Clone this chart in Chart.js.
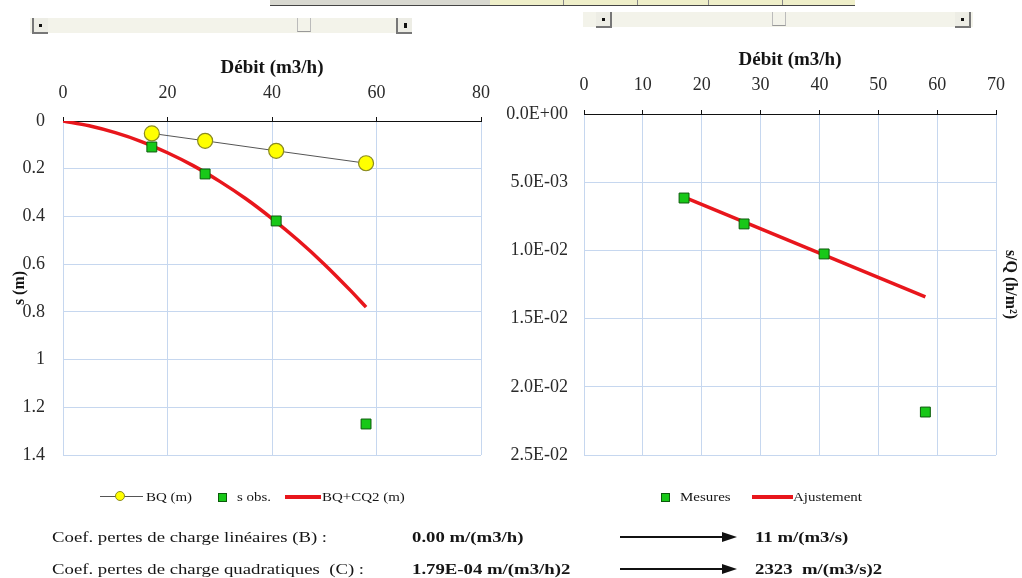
<!DOCTYPE html>
<html>
<head>
<meta charset="utf-8">
<script src="https://cdn.jsdelivr.net/npm/chart.js@4.4.1/dist/chart.umd.min.js"></script>
<style>
  html, body { margin: 0; padding: 0; background: #fff; }
  #page { position: relative; width: 1022px; height: 578px; overflow: hidden;
          font-family: "Liberation Serif", "Times New Roman", serif; color: #151515; }
  #page canvas { position: absolute; left: 0; top: 0; }
  .abs { position: absolute; }
  .strip { top: 0; height: 5px; border-bottom: 1px solid #444; }
  .bar { background: #f3f3ea; height: 15px; }
  .btn { position: absolute; top: 0; width: 14px; height: 14px; background: #ededE5; }
  .btn i { position: absolute; left: 6px; top: 6px; width: 3px; height: 3px; background: #111; }
  .thumb { position: absolute; top: 0; width: 12px; height: 13px; border-left: 1px solid #bbb;
           border-right: 1px solid #bbb; border-bottom: 1px solid #999; }
  .leg { font-size: 13px; line-height: 16px; white-space: nowrap; transform: scaleX(1.15);
         transform-origin: 0 50%; }
  .row { font-size: 15px; line-height: 18px; white-space: nowrap; transform: scaleX(1.25);
         transform-origin: 0 50%; }
  .row b { font-weight: bold; }
</style>
</head>
<body>
<div id="page">
  <!-- worksheet header cells -->
  <div class="abs strip" style="left:270px;width:220px;background:#d8d8d0;"></div>
  <div class="abs strip" style="left:490px;width:365px;background:#efefc9;"></div>
  <div class="abs" style="left:563px;top:0;width:1px;height:5px;background:#888;"></div>
  <div class="abs" style="left:637px;top:0;width:1px;height:5px;background:#888;"></div>
  <div class="abs" style="left:708px;top:0;width:1px;height:5px;background:#888;"></div>
  <div class="abs" style="left:782px;top:0;width:1px;height:5px;background:#888;"></div>

  <!-- scroll controls -->
  <div class="abs bar" style="left:30px;top:18px;width:382px;">
    <div class="btn" style="left:2px;border-left:2px solid #777;border-bottom:2px solid #777;"><i style="left:5px"></i></div>
    <div class="thumb" style="left:267px;"></div>
    <div class="btn" style="left:366px;border-left:2px solid #777;border-bottom:2px solid #777;"><i style="left:6px;width:3px;height:5px;top:5px"></i></div>
  </div>
  <div class="abs bar" style="left:583px;top:12px;width:390px;">
    <div class="btn" style="left:13px;border-right:2px solid #777;border-bottom:2px solid #777;"><i></i></div>
    <div class="thumb" style="left:189px;"></div>
    <div class="btn" style="left:372px;border-right:2px solid #777;border-bottom:2px solid #777;"><i></i></div>
  </div>

  <canvas id="drawdown" width="1022" height="578"></canvas>
  <canvas id="specific" width="1022" height="578"></canvas>

  <!-- legend: drawdown chart -->
  <div class="abs" style="left:100px;top:496px;width:43px;height:1px;background:#555;"></div>
  <div class="abs" style="left:115px;top:491px;width:10px;height:10px;border-radius:50%;background:#ffff00;border:1px solid #8a8a20;box-sizing:border-box;"></div>
  <div class="abs leg" style="left:146px;top:489px;">BQ (m)</div>
  <div class="abs" style="left:218px;top:493px;width:9px;height:9px;background:#18c818;border:1px solid #0b5a0b;box-sizing:border-box;"></div>
  <div class="abs leg" style="left:237px;top:489px;">s obs.</div>
  <div class="abs" style="left:285px;top:495px;width:36px;height:4px;background:#e8161c;"></div>
  <div class="abs leg" style="left:322px;top:489px;">BQ+CQ2 (m)</div>

  <!-- legend: specific drawdown chart -->
  <div class="abs" style="left:661px;top:493px;width:9px;height:9px;background:#18c818;border:1px solid #0b5a0b;box-sizing:border-box;"></div>
  <div class="abs leg" style="left:680px;top:489px;">Mesures</div>
  <div class="abs" style="left:752px;top:495px;width:41px;height:4px;background:#e8161c;"></div>
  <div class="abs leg" style="left:793px;top:489px;">Ajustement</div>

  <!-- coefficients -->
  <div class="abs row" style="left:52px;top:528px;">Coef. pertes de charge linéaires (B) :</div>
  <div class="abs row" style="left:412px;top:528px;"><b>0.00 m/(m3/h)</b></div>
  <div class="abs row" style="left:755px;top:528px;"><b>11 m/(m3/s)</b></div>
  <div class="abs row" style="left:52px;top:560px;">Coef. pertes de charge quadratiques&nbsp; (C) :</div>
  <div class="abs row" style="left:412px;top:560px;"><b>1.79E-04 m/(m3/h)2</b></div>
  <div class="abs row" style="left:755px;top:560px;"><b>2323&nbsp; m/(m3/s)2</b></div>
  <svg class="abs" style="left:618px;top:528px;" width="124" height="50">
    <line x1="2" y1="9" x2="108" y2="9" stroke="#111" stroke-width="2"/>
    <polygon points="104,4 119,9 104,14" fill="#111"/>
    <line x1="2" y1="41" x2="108" y2="41" stroke="#111" stroke-width="2"/>
    <polygon points="104,36 119,41 104,46" fill="#111"/>
  </svg>
</div>

<script>
// Pumping test: discharge (m3/h) and drawdown (m)
const debit = [17, 27.2, 40.8, 58];
const bqValues = [0.052, 0.083, 0.125, 0.177];
const sObserved = [0.109, 0.222, 0.419, 1.27];

// Fitted quadratic drawdown curve BQ+CQ2
const curveDebit = [0, 5, 10, 15, 20, 25, 30, 35, 40, 45, 50, 55, 58];
const curveS = [0, 0.020, 0.049, 0.086, 0.133, 0.188, 0.253, 0.326, 0.409, 0.50, 0.60, 0.71, 0.78];

// Specific drawdown s/Q (h/m2) and its linear fit
const sOverQ = [0.00616, 0.00806, 0.01026, 0.02185];
const fitDebit = [17, 58];
const fitSOverQ = [0.0061, 0.0134];

// Tick labels (from the axis minimum, one per step)
const leftYStep = 0.2;
const leftYTickLabels = ['0', '0.2', '0.4', '0.6', '0.8', '1', '1.2', '1.4'];
const rightYStep = 0.005;
const rightYTickLabels = ['0.0E+00', '5.0E-03', '1.0E-02', '1.5E-02', '2.0E-02', '2.5E-02'];

const toPoints = (xs, ys) => xs.map((x, i) => ({ x, y: ys[i] }));
const labelFor = (labels, step) => v => labels[Math.round(v / step)];

const GRID = '#c6d7ef';
const SERIF = '"Liberation Serif", "Times New Roman", serif';
const TICK_FONT = { family: SERIF, size: 18 };
const TITLE_FONT = { family: SERIF, size: 19, weight: 'bold' };
const SIDE_FONT = { family: SERIF, size: 16, weight: 'bold' };
const GREEN = '#18c818', GREEN_EDGE = '#0b5a0b', RED = '#e8161c';

const commonOpts = {
  responsive: false,
  animation: false,
  plugins: { legend: { display: false }, tooltip: { enabled: false } }
};

function fixWidth(w) { return scale => { scale.width = w; }; }
function fixHeight(h) { return scale => { scale.height = h; }; }
const hideZeroLine = c => (c.tick && c.tick.value === 0) ? 'rgba(0,0,0,0)' : GRID;

// Drawdown versus discharge
new Chart(document.getElementById('drawdown'), {
  type: 'scatter',
  data: {
    datasets: [
      {
        label: 's obs.',
        data: toPoints(debit, sObserved),
        pointStyle: 'rect', pointRadius: 7, pointHoverRadius: 7,
        backgroundColor: GREEN, borderColor: GREEN_EDGE, borderWidth: 1,
        showLine: false
      },
      {
        label: 'BQ (m)',
        data: toPoints(debit, bqValues),
        showLine: true, borderColor: '#555', borderWidth: 1,
        pointRadius: 7.5, pointHoverRadius: 7.5,
        pointBackgroundColor: '#ffff00', pointBorderColor: '#8a8a20', pointBorderWidth: 1.2
      },
      {
        label: 'BQ+CQ2 (m)',
        data: toPoints(curveDebit, curveS),
        showLine: true, borderColor: RED, borderWidth: 3.5,
        pointRadius: 0, cubicInterpolationMode: 'monotone'
      }
    ]
  },
  options: {
    ...commonOpts,
    layout: { padding: { left: 0, top: 0, right: 541, bottom: 123 } },
    scales: {
      x: {
        type: 'linear', position: 'top', min: 0, max: 80,
        afterFit: fixHeight(121),
        ticks: { stepSize: 20, font: TICK_FONT, color: '#2a2a2a', padding: 13 },
        grid: { color: GRID, tickColor: '#111', tickLength: 4 },
        border: { display: true, color: '#111', width: 1 },
        title: { display: true, text: 'Débit (m3/h)', font: TITLE_FONT, color: '#151515',
                 padding: { top: 57, bottom: 0 } }
      },
      y: {
        type: 'linear', position: 'left', reverse: true, min: 0, max: 1.4,
        afterFit: fixWidth(63),
        ticks: { stepSize: leftYStep, font: TICK_FONT, color: '#2a2a2a', padding: 18,
                 callback: labelFor(leftYTickLabels, leftYStep) },
        grid: { drawTicks: false, color: hideZeroLine },
        border: { display: false },
        title: { display: true, text: 's (m)', font: SIDE_FONT, color: '#151515',
                 padding: { top: 10, bottom: 0 } }
      }
    }
  }
});

// Specific drawdown s/Q versus discharge
new Chart(document.getElementById('specific'), {
  type: 'scatter',
  data: {
    datasets: [
      {
        label: 'Mesures',
        data: toPoints(debit, sOverQ),
        pointStyle: 'rect', pointRadius: 7, pointHoverRadius: 7,
        backgroundColor: GREEN, borderColor: GREEN_EDGE, borderWidth: 1,
        showLine: false
      },
      {
        label: 'Ajustement',
        data: toPoints(fitDebit, fitSOverQ),
        showLine: true, borderColor: RED, borderWidth: 3.5, pointRadius: 0
      }
    ]
  },
  options: {
    ...commonOpts,
    layout: { padding: { left: 484, top: 0, right: 0, bottom: 123 } },
    scales: {
      x: {
        type: 'linear', position: 'top', min: 0, max: 70,
        afterFit: fixHeight(114),
        ticks: { stepSize: 10, font: TICK_FONT, color: '#2a2a2a', padding: 14 },
        grid: { color: GRID, tickColor: '#111', tickLength: 4 },
        border: { display: true, color: '#111', width: 1 },
        title: { display: true, text: 'Débit (m3/h)', font: TITLE_FONT, color: '#151515',
                 padding: { top: 49, bottom: 0 } }
      },
      y: {
        type: 'linear', position: 'left', reverse: true, min: 0, max: 0.025,
        afterFit: fixWidth(100),
        ticks: { stepSize: rightYStep, font: TICK_FONT, color: '#2a2a2a', padding: 16,
                 callback: labelFor(rightYTickLabels, rightYStep) },
        grid: { drawTicks: false, color: hideZeroLine },
        border: { display: false }
      },
      yTitle: {
        type: 'linear', position: 'right', reverse: true, min: 0, max: 0.025,
        afterFit: fixWidth(26),
        ticks: { display: false },
        grid: { display: false },
        border: { display: false },
        title: { display: true, text: 's/Q (h/m²)', font: SIDE_FONT, color: '#151515',
                 padding: { top: 2, bottom: 0 } }
      }
    }
  }
});
</script>
</body>
</html>
